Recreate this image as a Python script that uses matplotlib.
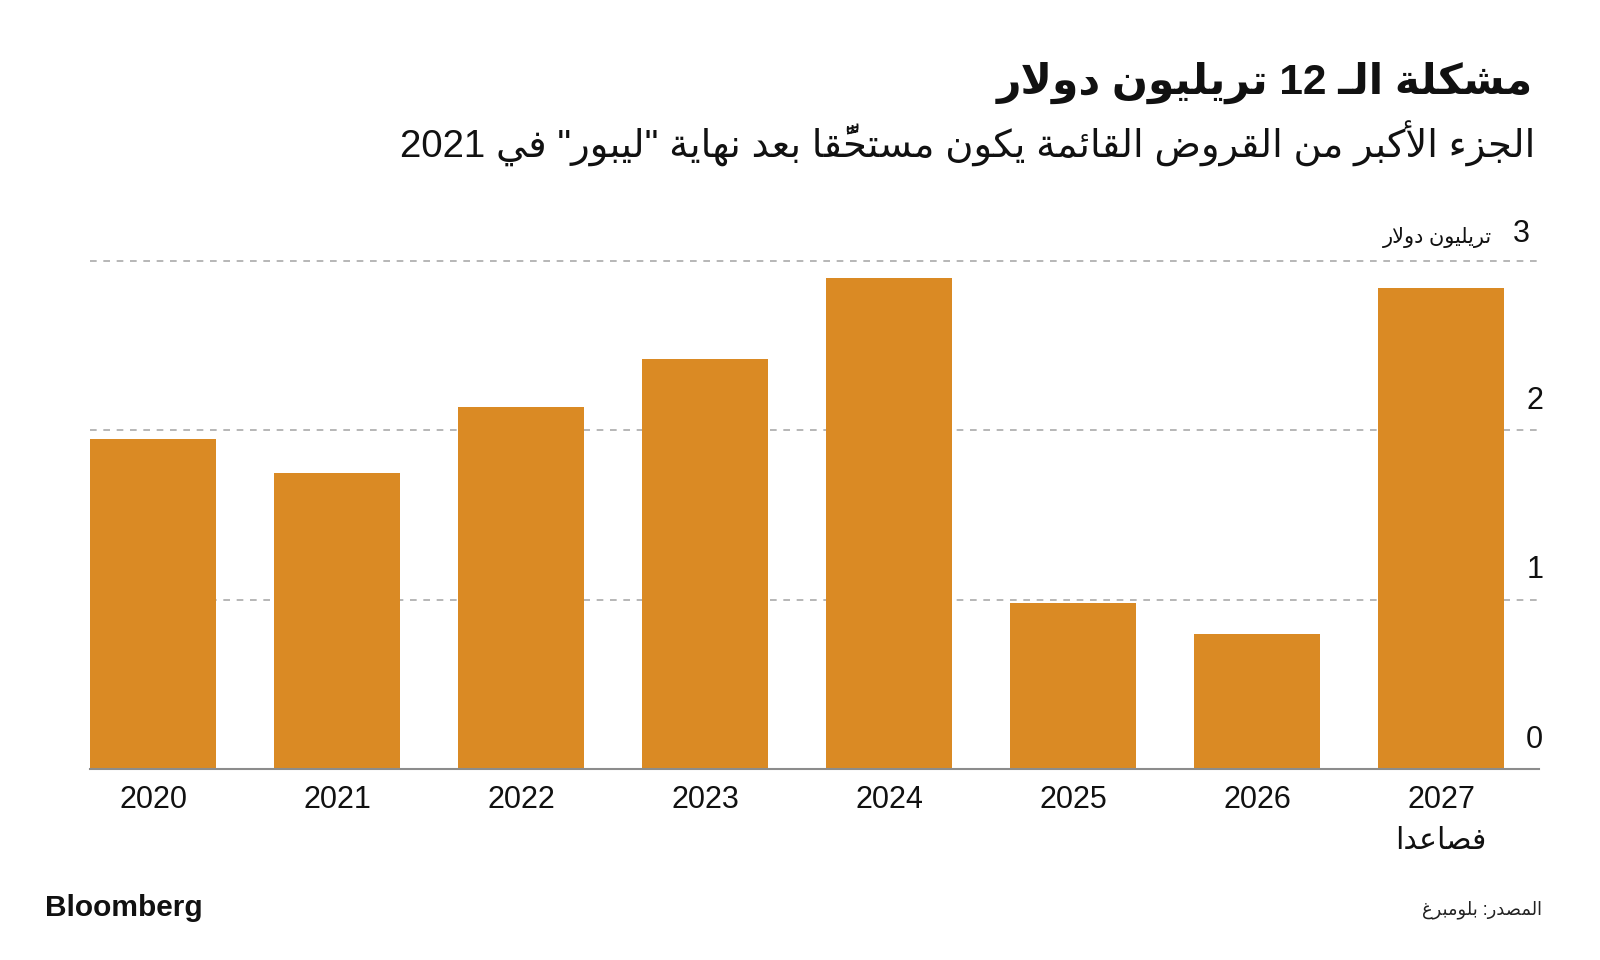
import unicodedata
import matplotlib
matplotlib.use('Agg')
from matplotlib import pyplot as plt

# data
years = ['2020', '2021', '2022', '2023', '2024', '2025', '2026', '2027']
loans = [1.95, 1.75, 2.14, 2.42, 2.90, 0.98, 0.80, 2.84]
yticks = [0, 1, 2, 3]

title = 'مشكلة الـ 12 تريليون دولار'
subtitle = 'الجزء الأكبر من القروض القائمة يكون مستحقًّا بعد نهاية "ليبور" في 2021'
unit = 'تريليون دولار'
last_sub = 'فصاعدا'
source = 'المصدر: بلومبرغ'

ORANGE = '#DA8A24'
FONT = ['Liberation Sans', 'DejaVu Sans']

#----------------------------------------------------------
# minimal arabic shaping, matplotlib has no bidi/shaping
#----------------------------------------------------------
FORMS = {}
for cp in range(0xFE70, 0xFF00):
	name = unicodedata.name(chr(cp), '')
	if not name.startswith('ARABIC LETTER '):
		continue
	for suf, key in ((' ISOLATED FORM', 'iso'), (' FINAL FORM', 'fin'),
					 (' INITIAL FORM', 'ini'), (' MEDIAL FORM', 'med')):
		if name.endswith(suf):
			try:
				ch = unicodedata.lookup(name[:-len(suf)])
			except KeyError:
				break
			FORMS.setdefault(ch, {})[key] = chr(cp)
			break
FORMS['\u0640'] = {k: '\u0640' for k in ('iso', 'fin', 'ini', 'med')}

LAM_ALEF = {'\u0627': ('\uFEFB', '\uFEFC'), '\u0623': ('\uFEF7', '\uFEF8'),
			'\u0625': ('\uFEF9', '\uFEFA'), '\u0622': ('\uFEF5', '\uFEF6')}


def dual(c):
	return c is not None and 'ini' in FORMS.get(c, {})


def joinsRight(c):
	return c is not None and 'fin' in FORMS.get(c, {})


def shape(text):
	chars = list(text)
	n = len(chars)

	def neighbour(i, step):
		j = i + step
		while 0 <= j < n and unicodedata.combining(chars[j]):
			j += step
		return chars[j] if 0 <= j < n else None

	out = []
	i = 0
	while i < n:
		c = chars[i]
		if c not in FORMS:
			out.append(c)
			i += 1
			continue
		p = neighbour(i, -1)
		q = neighbour(i, 1)
		prevJoin = dual(p) and joinsRight(c)
		if c == '\u0644' and i + 1 < n and chars[i + 1] in LAM_ALEF:
			out.append(LAM_ALEF[chars[i + 1]][1 if prevJoin else 0])
			i += 2
			continue
		nextJoin = dual(c) and joinsRight(q)
		f = FORMS[c]
		if prevJoin and nextJoin:
			out.append(f.get('med', c))
		elif prevJoin:
			out.append(f.get('fin', c))
		elif nextJoin:
			out.append(f.get('ini', c))
		else:
			out.append(f.get('iso', c))
		i += 1
	return out


def rtl(text):
	s = shape(text)
	runs = []
	for c in s:
		ltr = c.isascii() and c.isalnum()
		if runs and runs[-1][0] == ltr:
			runs[-1][1].append(c)
		else:
			runs.append([ltr, [c]])
	vis = ''
	for ltr, cs in reversed(runs):
		if ltr:
			vis += ''.join(cs)
			continue
		clusters = []
		for c in cs:
			if unicodedata.combining(c) and clusters:
				clusters[-1] += c
			else:
				clusters.append(c)
		vis += ''.join(reversed(clusters))
	return vis


#----------------------------------------------------------
fig = plt.figure(figsize=(16, 9.6), dpi=100)
fig.patch.set_facecolor('white')

W, H = 1600.0, 960.0
ax = fig.add_axes([89.8 / W, 1 - 769.0 / H, (1539.0 - 89.8) / W, (769.0 - 261.0) / H])

x = list(range(len(years)))
ax.bar(x, loans, width=0.688, color=ORANGE, zorder=2)
for v in yticks[1:]:
	ax.axhline(v, color='#aaaaaa', lw=1.2, ls=(0, (4, 4)), zorder=1, clip_on=False)
ax.axhline(0, color='#8c8c8c', lw=1.5, zorder=3, clip_on=False)

ax.set_xlim(-0.344, 7.532)
ax.set_ylim(0, 3)
ax.set_xticks([])
ax.set_yticks([])
for s in ax.spines.values():
	s.set_visible(False)

# y labels sit above their gridlines on the right
for v in yticks[:-1]:
	ax.annotate(str(v), xy=(1.0, v), xycoords=('axes fraction', 'data'),
				xytext=(3, 21), textcoords='offset points', ha='right', va='center',
				fontsize=22, family=FONT, color='#111111')
fig.text(1530 / W, 1 - 234 / H, '3', ha='right', va='center', fontsize=22,
		 family=FONT, color='#111111')
fig.text(1492 / W, 1 - 237 / H, rtl(unit), ha='right', va='center', fontsize=15,
		 family=FONT, color='#111111')

# x labels
for i, yr in enumerate(years):
	ax.annotate(yr, xy=(i, 0), xycoords='data', xytext=(0, -22), textcoords='offset points',
				ha='center', va='center', fontsize=22, family=FONT, color='#111111')
ax.annotate(rtl(last_sub), xy=(7, 0), xycoords='data', xytext=(0, -52), textcoords='offset points',
			ha='center', va='center', fontsize=21.5, family=FONT, color='#111111')

# titles, fitted to the reference widths
renderer = fig.canvas.get_renderer()


def fitText(xr, yc, s, target, fs, **kw):
	t = fig.text(xr / W, 1 - yc / H, s, ha='right', va='center', fontsize=fs, **kw)
	w = t.get_window_extent(renderer).width
	t.set_fontsize(fs * target / w)
	return t


fitText(1533, 83, rtl(title), 535, 30, family=FONT, weight='bold', color='#111111')
fitText(1535, 144, rtl(subtitle), 1139, 24, family=FONT, color='#111111')
fitText(1542, 910, rtl(source), 120, 13, family=FONT, color='#222222')

t = fig.text(45 / W, 1 - 908 / H, 'Bloomberg', ha='left', va='center', fontsize=18,
			 family=FONT, weight='bold', color='#111111')
t.set_fontsize(18 * 158 / t.get_window_extent(renderer).width)

fig.savefig('out.png', dpi=100, facecolor='white')
